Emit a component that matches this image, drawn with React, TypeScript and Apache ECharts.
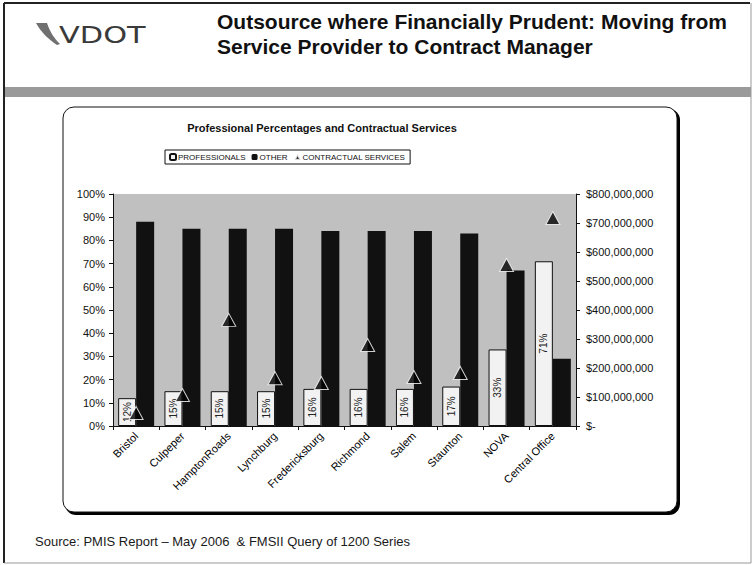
import React, { useEffect, useRef } from "react";
import * as echarts from "echarts";

const categories = [
  "Bristol",
  "Culpeper",
  "HamptonRoads",
  "Lynchburg",
  "Fredericksburg",
  "Richmond",
  "Salem",
  "Staunton",
  "NOVA",
  "Central Office",
];
const professionals = [12, 15, 15, 15, 16, 16, 16, 17, 33, 71];
const other = [88, 85, 85, 85, 84, 84, 84, 83, 67, 29];
const contractual = [
  45000000, 107000000, 366000000, 165000000, 148000000, 279000000, 169000000,
  183000000, 555000000, 717000000,
];

const FONT = "Liberation Sans, Arial, sans-serif";

echarts.graphic.registerShape(
  "swoosh",
  echarts.graphic.extendPath(
    "M0,0 L11,0 C14,9 18,15 24,21 L21,22 C12,16 5,9 0,0 Z",
    {}
  )
);

function fmtMoney(v: number): string {
  if (v === 0) return "$-";
  return "$" + v.toLocaleString("en-US");
}

export default function App() {
  const ref = useRef<HTMLDivElement>(null);
  useEffect(() => {
    if (!ref.current) return;
    const chart = echarts.init(ref.current, null, { renderer: "svg" });
    chart.setOption({
      animation: false,
      backgroundColor: "#ffffff",
      textStyle: { fontFamily: FONT },
      graphic: [
        // page frame
        { type: "line", z: -20, shape: { x1: 4, y1: 3, x2: 750, y2: 3 }, style: { stroke: "#222", lineWidth: 2 } },
        { type: "line", z: -20, shape: { x1: 4, y1: 3, x2: 4, y2: 563 }, style: { stroke: "#222", lineWidth: 2 } },
        { type: "line", z: -20, shape: { x1: 751, y1: 3, x2: 751, y2: 563 }, style: { stroke: "#999", lineWidth: 1 } },
        { type: "line", z: -20, shape: { x1: 4, y1: 563, x2: 751, y2: 563 }, style: { stroke: "#999", lineWidth: 1 } },
        // gray band
        { type: "rect", z: -20, shape: { x: 5, y: 87, width: 746, height: 10 }, style: { fill: "#9a9a9a" } },
        // logo
        { type: "swoosh", z: -20, x: 36, y: 23, style: { fill: "#707070" } },
        {
          type: "text",
          z: -20,
          x: 59,
          y: 35,
          scaleX: 1.32,
          style: { text: "VDOT", font: "normal 23px DejaVu Sans", fill: "#3a3a3a", textVerticalAlign: "middle" },
        },
        // titles
        {
          type: "text",
          z: -20,
          x: 217,
          y: 21,
          style: {
            text: "Outsource where Financially Prudent: Moving from",
            font: "bold 21px " + FONT,
            fill: "#111",
            textVerticalAlign: "middle",
          },
        },
        {
          type: "text",
          z: -20,
          x: 217,
          y: 46,
          style: {
            text: "Service Provider to Contract Manager",
            font: "bold 21px " + FONT,
            fill: "#111",
            textVerticalAlign: "middle",
          },
        },
        // chart frame shadow + frame
        { type: "rect", z: -15, shape: { x: 65, y: 109, width: 615, height: 406, r: 11 }, style: { fill: "#000" } },
        { type: "rect", z: -14, shape: { x: 63, y: 107, width: 614, height: 405, r: 11 }, style: { fill: "#fff", stroke: "#111", lineWidth: 1 } },
        {
          type: "text",
          z: -10,
          x: 322,
          y: 128,
          style: {
            text: "Professional Percentages and Contractual Services",
            font: "bold 11px " + FONT,
            fill: "#111",
            textAlign: "center",
            textVerticalAlign: "middle",
          },
        },
        // source
        {
          type: "text",
          z: -10,
          x: 35,
          y: 541,
          style: {
            text: "Source: PMIS Report \u2013 May 2006  & FMSII Query of 1200 Series",
            font: "normal 13px " + FONT,
            fill: "#1a1a1a",
            textVerticalAlign: "middle",
          },
        },
      ],
      legend: {
        left: 165,
        top: 150,
        data: ["PROFESSIONALS", "OTHER", "CONTRACTUAL SERVICES"],
        itemWidth: 6,
        itemHeight: 6,
        itemGap: 6,
        padding: [3, 5, 3, 4],
        borderColor: "#111",
        borderWidth: 1,
        backgroundColor: "#fff",
        textStyle: { fontSize: 8, color: "#111", fontFamily: FONT, padding: [0, 0, 0, -3] },
      },
      grid: {
        left: 113,
        right: 177,
        top: 194,
        bottom: 139,
        show: true,
        backgroundColor: "#c0c0c0",
        borderWidth: 0,
      },
      xAxis: {
        type: "category",
        data: categories,
        axisLine: { lineStyle: { color: "#111", width: 1 } },
        axisTick: { show: true, length: 4, lineStyle: { color: "#111" } },
        axisLabel: { rotate: 45, fontSize: 11, color: "#000", margin: 8, interval: 0 },
      },
      yAxis: [
        {
          type: "value",
          min: 0,
          max: 100,
          interval: 10,
          splitLine: { show: false },
          axisLine: { show: true, lineStyle: { color: "#111" } },
          axisTick: { show: true, length: 4, lineStyle: { color: "#111" } },
          axisLabel: { formatter: "{value}%", fontSize: 11, color: "#111", margin: 8 },
        },
        {
          type: "value",
          min: 0,
          max: 800000000,
          interval: 100000000,
          splitLine: { show: false },
          axisLine: { show: true, lineStyle: { color: "#111" } },
          axisTick: { show: true, length: 4, lineStyle: { color: "#111" } },
          axisLabel: { formatter: fmtMoney, fontSize: 11, color: "#111", margin: 10 },
        },
      ],
      series: [
        {
          name: "PROFESSIONALS",
          type: "bar",
          data: professionals,
          barWidth: 18,
          barGap: "0%",
          itemStyle: { color: "#f2f2f2", borderColor: "#111", borderWidth: 1 },
          label: {
            show: true,
            position: "inside",
            rotate: 90,
            formatter: "{c}%",
            fontSize: 10,
            color: "#222",
          },
        },
        {
          name: "OTHER",
          type: "bar",
          data: other,
          barWidth: 18,
          barGap: "0%",
          itemStyle: { color: "#111111" },
        },
        {
          name: "CONTRACTUAL SERVICES",
          type: "scatter",
          yAxisIndex: 1,
          data: contractual,
          symbol: "triangle",
          symbolSize: [14, 13],
          itemStyle: { color: "#000", borderColor: "#fff", borderWidth: 1 },
          z: 5,
        },
      ],
    });
    return () => chart.dispose();
  }, []);
  return (
    <div
      ref={ref}
      style={{ position: "absolute", left: 0, top: 0, width: 753, height: 565 }}
    />
  );
}
